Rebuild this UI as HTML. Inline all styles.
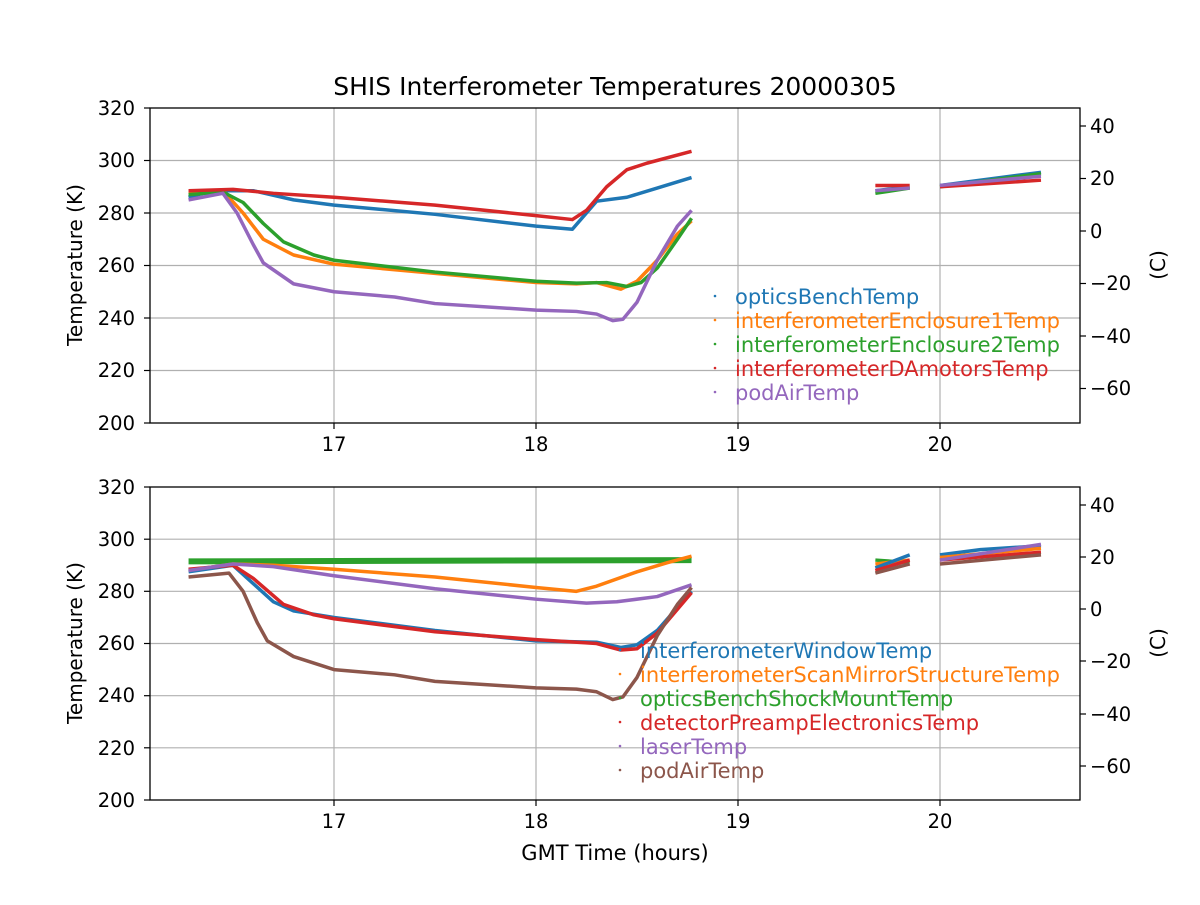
<!DOCTYPE html>
<html><head><meta charset="utf-8"><style>
body{margin:0;background:#fff}
svg text{font-family:"DejaVu Sans","Liberation Sans",sans-serif;fill:#000}
</style></head><body>
<svg width="1200" height="900" xmlns="http://www.w3.org/2000/svg">
<rect width="1200" height="900" fill="#fff"/>
<text x="615" y="95" font-size="25" text-anchor="middle">SHIS Interferometer Temperatures 20000305</text>

<!-- TOP PANEL -->
<g stroke="#b0b0b0" stroke-width="1.2">
<line x1="334" y1="108" x2="334" y2="423"/><line x1="536" y1="108" x2="536" y2="423"/><line x1="738" y1="108" x2="738" y2="423"/><line x1="940" y1="108" x2="940" y2="423"/>
<line x1="150" y1="160.5" x2="1080" y2="160.5"/><line x1="150" y1="213" x2="1080" y2="213"/><line x1="150" y1="265.5" x2="1080" y2="265.5"/><line x1="150" y1="318" x2="1080" y2="318"/><line x1="150" y1="370.5" x2="1080" y2="370.5"/>
</g>
<g fill="none" stroke-width="3.5" stroke-linejoin="round" transform="translate(-3100,948) scale(202,-2.625)">
<polyline vector-effect="non-scaling-stroke" stroke="#1f77b4" points="16.28,286 16.4,288.5 16.6,288.5 16.8,285 17,283 17.5,279.5 18,275 18.18,273.8 18.3,284.5 18.45,286 18.6,289.5 18.77,293.5"/>
<polyline vector-effect="non-scaling-stroke" stroke="#ff7f0e" points="16.28,288 16.45,288.5 16.55,280 16.65,270 16.8,264 17,260.5 17.5,257 18,253.5 18.2,253 18.3,253.5 18.42,251 18.5,254 18.6,262 18.7,272 18.77,277"/>
<polyline vector-effect="non-scaling-stroke" stroke="#2ca02c" points="16.28,287 16.45,288 16.55,284 16.65,276 16.75,269 16.9,264 17,262 17.5,257.5 18,254 18.2,253.3 18.35,253.5 18.45,252 18.52,253.5 18.6,259 18.7,270 18.77,278"/>
<polyline vector-effect="non-scaling-stroke" stroke="#d62728" points="16.28,288.5 16.5,289 16.7,287.5 17,286 17.5,283 18,279 18.18,277.5 18.25,281 18.35,290 18.45,296.5 18.55,299 18.77,303.5"/>
<polyline vector-effect="non-scaling-stroke" stroke="#9467bd" points="16.28,285 16.45,287.5 16.52,280 16.6,268 16.65,261 16.8,253 17,250 17.3,248 17.5,245.5 18,243 18.2,242.5 18.3,241.5 18.38,239 18.43,239.5 18.5,246 18.6,262 18.7,275 18.77,281"/>
<polyline vector-effect="non-scaling-stroke" stroke="#1f77b4" points="19.68,288.5 19.85,290"/>
<polyline vector-effect="non-scaling-stroke" stroke="#2ca02c" points="19.68,287.5 19.85,289.5"/>
<polyline vector-effect="non-scaling-stroke" stroke="#d62728" points="19.68,290.5 19.85,290.5"/>
<polyline vector-effect="non-scaling-stroke" stroke="#9467bd" points="19.68,288.5 19.85,289.5"/>
<polyline vector-effect="non-scaling-stroke" stroke="#1f77b4" points="20,290.5 20.5,295.5"/>
<polyline vector-effect="non-scaling-stroke" stroke="#2ca02c" points="20,290 20.5,295"/>
<polyline vector-effect="non-scaling-stroke" stroke="#d62728" points="20,290 20.5,292.5"/>
<polyline vector-effect="non-scaling-stroke" stroke="#9467bd" points="20,290.5 20.5,294"/>
</g>
<rect x="150" y="108" width="930" height="315" fill="none" stroke="#000" stroke-width="1.3"/>
<g font-size="19.5" text-anchor="end">
<text x="135" y="115">320</text><text x="135" y="167">300</text><text x="135" y="220">280</text><text x="135" y="272">260</text><text x="135" y="325">240</text><text x="135" y="377">220</text><text x="135" y="430">200</text>
</g>
<g stroke="#000" stroke-width="1.2">
<line x1="144" y1="108" x2="150" y2="108"/><line x1="144" y1="160.5" x2="150" y2="160.5"/><line x1="144" y1="213" x2="150" y2="213"/><line x1="144" y1="265.5" x2="150" y2="265.5"/><line x1="144" y1="318" x2="150" y2="318"/><line x1="144" y1="370.5" x2="150" y2="370.5"/><line x1="144" y1="423" x2="150" y2="423"/>
<line x1="334" y1="423" x2="334" y2="429"/><line x1="536" y1="423" x2="536" y2="429"/><line x1="738" y1="423" x2="738" y2="429"/><line x1="940" y1="423" x2="940" y2="429"/>
<line x1="1080" y1="126" x2="1086" y2="126"/><line x1="1080" y1="178.5" x2="1086" y2="178.5"/><line x1="1080" y1="231" x2="1086" y2="231"/><line x1="1080" y1="283.5" x2="1086" y2="283.5"/><line x1="1080" y1="336" x2="1086" y2="336"/><line x1="1080" y1="388.5" x2="1086" y2="388.5"/>
</g>
<g font-size="19.5" text-anchor="middle"><text x="334" y="451">17</text><text x="536" y="451">18</text><text x="738" y="451">19</text><text x="940" y="451">20</text></g>
<g font-size="19.5"><text x="1090" y="133">40</text><text x="1090" y="185">20</text><text x="1090" y="238">0</text><text x="1090" y="290">−20</text><text x="1090" y="343">−40</text><text x="1090" y="395">−60</text></g>
<text font-size="20" transform="translate(82,265) rotate(-90)" text-anchor="middle">Temperature (K)</text>
<text font-size="20" transform="translate(1165,265) rotate(-90)" text-anchor="middle">(C)</text>
<g font-size="21">
<circle cx="715" cy="296" r="1.3" fill="#1f77b4"/><text x="735" y="304" style="fill:#1f77b4">opticsBenchTemp</text>
<circle cx="715" cy="320" r="1.3" fill="#ff7f0e"/><text x="735" y="328" style="fill:#ff7f0e">interferometerEnclosure1Temp</text>
<circle cx="715" cy="344" r="1.3" fill="#2ca02c"/><text x="735" y="352" style="fill:#2ca02c">interferometerEnclosure2Temp</text>
<circle cx="715" cy="368" r="1.3" fill="#d62728"/><text x="735" y="376" style="fill:#d62728">interferometerDAmotorsTemp</text>
<circle cx="715" cy="392" r="1.3" fill="#9467bd"/><text x="735" y="400" style="fill:#9467bd">podAirTemp</text>
</g>

<!-- BOTTOM PANEL -->
<g stroke="#b0b0b0" stroke-width="1.2">
<line x1="334" y1="487" x2="334" y2="800"/><line x1="536" y1="487" x2="536" y2="800"/><line x1="738" y1="487" x2="738" y2="800"/><line x1="940" y1="487" x2="940" y2="800"/>
<line x1="150" y1="539.2" x2="1080" y2="539.2"/><line x1="150" y1="591.3" x2="1080" y2="591.3"/><line x1="150" y1="643.5" x2="1080" y2="643.5"/><line x1="150" y1="695.7" x2="1080" y2="695.7"/><line x1="150" y1="747.8" x2="1080" y2="747.8"/>
</g>
<g fill="none" stroke-width="3.5" stroke-linejoin="round" transform="translate(-3100,1321.6) scale(202,-2.608)">
<polyline vector-effect="non-scaling-stroke" stroke="#2ca02c" stroke-width="6" points="16.28,291.5 18.77,292"/>
<polyline vector-effect="non-scaling-stroke" stroke="#ff7f0e" points="16.28,288 16.5,290.5 16.7,290 17,288.5 17.5,285.5 18,281.5 18.2,280 18.3,282 18.5,287.5 18.65,291 18.77,293.5"/>
<polyline vector-effect="non-scaling-stroke" stroke="#1f77b4" points="16.28,287.5 16.5,290 16.6,283 16.7,276 16.8,272.5 17,270 17.5,265 18,261 18.3,260.5 18.42,258.5 18.5,259.5 18.6,265 18.77,280"/>
<polyline vector-effect="non-scaling-stroke" stroke="#d62728" points="16.28,288.5 16.5,290 16.6,285 16.75,275 16.9,271 17,269.5 17.5,264.5 18,261.5 18.3,260 18.42,257.5 18.5,258 18.6,264 18.77,279.5"/>
<polyline vector-effect="non-scaling-stroke" stroke="#9467bd" points="16.28,288 16.5,290.5 16.7,289.5 17,286 17.5,281 18,277 18.25,275.5 18.4,276 18.6,278 18.77,282.5"/>
<polyline vector-effect="non-scaling-stroke" stroke="#8c564b" points="16.28,285.5 16.48,287 16.55,280 16.62,268 16.67,261 16.8,255 17,250 17.3,248 17.5,245.5 18,243 18.2,242.5 18.3,241.5 18.38,238.5 18.43,239.5 18.5,247 18.6,263 18.7,275 18.77,281.5"/>
<polyline vector-effect="non-scaling-stroke" stroke="#2ca02c" points="19.68,292 19.85,291"/>
<polyline vector-effect="non-scaling-stroke" stroke="#ff7f0e" points="19.68,290.5 19.85,292"/>
<polyline vector-effect="non-scaling-stroke" stroke="#1f77b4" points="19.68,289 19.85,294"/>
<polyline vector-effect="non-scaling-stroke" stroke="#d62728" points="19.68,288 19.85,292"/>
<polyline vector-effect="non-scaling-stroke" stroke="#8c564b" points="19.68,287 19.85,290.5"/>
<polyline vector-effect="non-scaling-stroke" stroke="#1f77b4" points="20,294 20.2,296 20.5,297.5"/>
<polyline vector-effect="non-scaling-stroke" stroke="#ff7f0e" points="20,293 20.5,296.5"/>
<polyline vector-effect="non-scaling-stroke" stroke="#d62728" points="20,292 20.5,295"/>
<polyline vector-effect="non-scaling-stroke" stroke="#9467bd" points="20,292 20.5,298"/>
<polyline vector-effect="non-scaling-stroke" stroke="#8c564b" points="20,290.5 20.5,294"/>
</g>
<rect x="150" y="487" width="930" height="313" fill="none" stroke="#000" stroke-width="1.3"/>
<g font-size="19.5" text-anchor="end">
<text x="135" y="494">320</text><text x="135" y="546">300</text><text x="135" y="598">280</text><text x="135" y="650">260</text><text x="135" y="702">240</text><text x="135" y="755">220</text><text x="135" y="807">200</text>
</g>
<g stroke="#000" stroke-width="1.2">
<line x1="144" y1="487" x2="150" y2="487"/><line x1="144" y1="539.2" x2="150" y2="539.2"/><line x1="144" y1="591.3" x2="150" y2="591.3"/><line x1="144" y1="643.5" x2="150" y2="643.5"/><line x1="144" y1="695.7" x2="150" y2="695.7"/><line x1="144" y1="747.8" x2="150" y2="747.8"/><line x1="144" y1="800" x2="150" y2="800"/>
<line x1="334" y1="800" x2="334" y2="806"/><line x1="536" y1="800" x2="536" y2="806"/><line x1="738" y1="800" x2="738" y2="806"/><line x1="940" y1="800" x2="940" y2="806"/>
<line x1="1080" y1="505" x2="1086" y2="505"/><line x1="1080" y1="557" x2="1086" y2="557"/><line x1="1080" y1="609" x2="1086" y2="609"/><line x1="1080" y1="661" x2="1086" y2="661"/><line x1="1080" y1="714" x2="1086" y2="714"/><line x1="1080" y1="766" x2="1086" y2="766"/>
</g>
<g font-size="19.5" text-anchor="middle"><text x="334" y="828">17</text><text x="536" y="828">18</text><text x="738" y="828">19</text><text x="940" y="828">20</text></g>
<g font-size="19.5"><text x="1090" y="512">40</text><text x="1090" y="564">20</text><text x="1090" y="616">0</text><text x="1090" y="668">−20</text><text x="1090" y="721">−40</text><text x="1090" y="773">−60</text></g>
<text font-size="20" transform="translate(82,643) rotate(-90)" text-anchor="middle">Temperature (K)</text>
<text font-size="20" transform="translate(1165,643) rotate(-90)" text-anchor="middle">(C)</text>
<text font-size="21" x="615" y="860" text-anchor="middle">GMT Time (hours)</text>
<g font-size="21">
<circle cx="620" cy="650" r="1.3" fill="#1f77b4"/><text x="640" y="658" style="fill:#1f77b4">interferometerWindowTemp</text>
<circle cx="620" cy="674" r="1.3" fill="#ff7f0e"/><text x="640" y="682" style="fill:#ff7f0e">interferometerScanMirrorStructureTemp</text>
<circle cx="620" cy="698" r="1.3" fill="#2ca02c"/><text x="640" y="706" style="fill:#2ca02c">opticsBenchShockMountTemp</text>
<circle cx="620" cy="722" r="1.3" fill="#d62728"/><text x="640" y="730" style="fill:#d62728">detectorPreampElectronicsTemp</text>
<circle cx="620" cy="746" r="1.3" fill="#9467bd"/><text x="640" y="754" style="fill:#9467bd">laserTemp</text>
<circle cx="620" cy="770" r="1.3" fill="#8c564b"/><text x="640" y="778" style="fill:#8c564b">podAirTemp</text>
</g>
</svg>
</body></html>
